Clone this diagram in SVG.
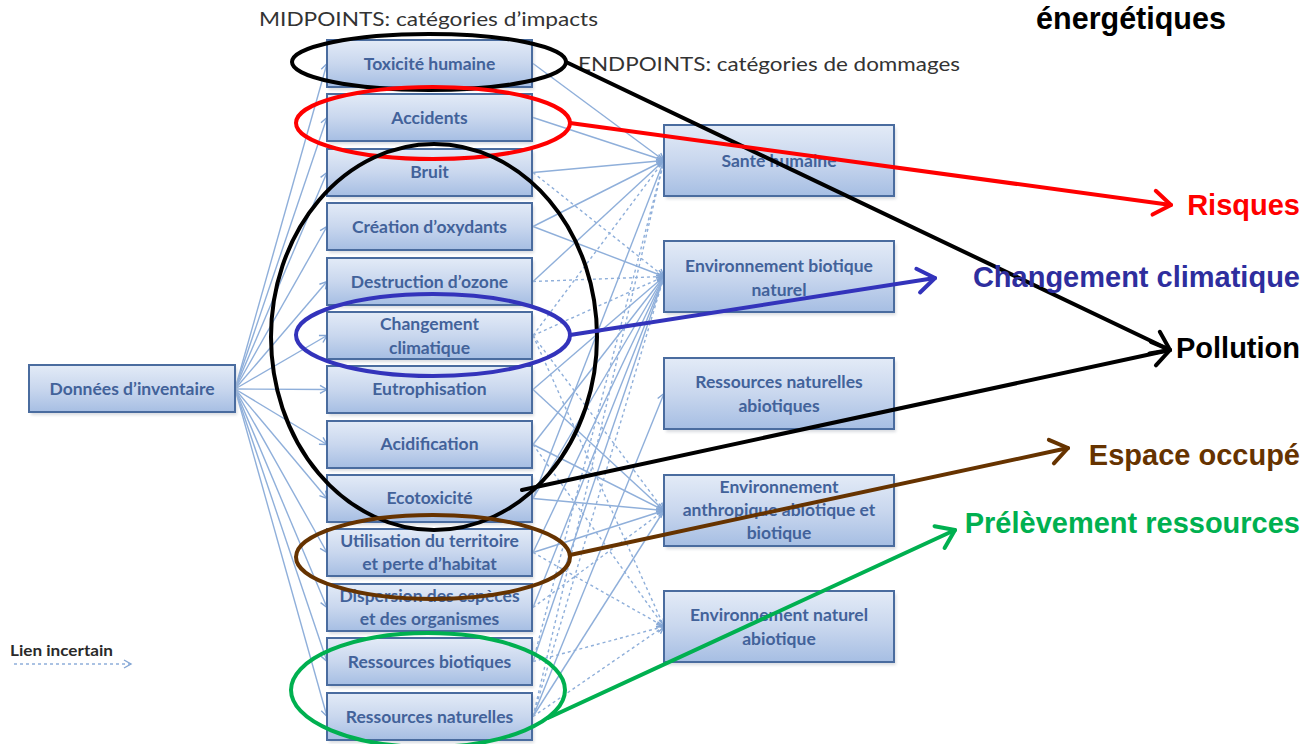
<svg xmlns="http://www.w3.org/2000/svg" width="1316" height="744" viewBox="0 0 1316 744">
<style>
.box{fill:url(#bg);stroke:#4a6c9f;stroke-width:2}
.sh{fill:#b9bec6;opacity:0.55;filter:url(#blur)}
.t{font-family:Lato,"Open Sans",sans-serif;font-size:17.5px;font-weight:700;fill:#42629a;text-anchor:middle}
.hd{font-family:Lato,"Open Sans",sans-serif;font-size:20px;fill:#333333}
.s{stroke:#8fafda;stroke-width:1.4;fill:none;marker-end:url(#ta)}
.d{stroke:#8fafda;stroke-width:1.4;fill:none;stroke-dasharray:3 3;marker-end:url(#ta)}
.el{fill:none;stroke-width:4}
.big{fill:none;stroke-width:4;stroke-linecap:round}
.lab{font-family:"Liberation Sans",Arial,sans-serif;font-size:29px;font-weight:700;text-anchor:end}
</style>
<defs>
<linearGradient id="bg" x1="0" y1="0" x2="0" y2="1">
<stop offset="0" stop-color="#e3ebf7"/>
<stop offset="0.5" stop-color="#c9d7ee"/>
<stop offset="1" stop-color="#a6bee3"/>
</linearGradient>
<filter id="blur" x="-10%" y="-20%" width="120%" height="140%"><feGaussianBlur stdDeviation="1.5"/></filter>
<marker id="ta" markerUnits="userSpaceOnUse" viewBox="-9 -6 10 12" markerWidth="10" markerHeight="12" refX="0" refY="0" orient="auto" overflow="visible">
<path d="M-7,-4 L0,0 L-7,4" fill="none" stroke="#84a6d4" stroke-width="1.4"/>
</marker>
<marker id="aR" markerUnits="userSpaceOnUse" viewBox="-24 -14 26 28" markerWidth="26" markerHeight="28" refX="0" refY="0" orient="auto" overflow="visible"><path d="M-17,-12 L0,0 L-17,12" fill="none" stroke="#ff0000" stroke-width="4" stroke-linecap="round" stroke-linejoin="round"/></marker>
<marker id="aK" markerUnits="userSpaceOnUse" viewBox="-24 -14 26 28" markerWidth="26" markerHeight="28" refX="0" refY="0" orient="auto" overflow="visible"><path d="M-17,-12 L0,0 L-17,12" fill="none" stroke="#000000" stroke-width="4" stroke-linecap="round" stroke-linejoin="round"/></marker>
<marker id="aB" markerUnits="userSpaceOnUse" viewBox="-24 -14 26 28" markerWidth="26" markerHeight="28" refX="0" refY="0" orient="auto" overflow="visible"><path d="M-17,-12 L0,0 L-17,12" fill="none" stroke="#3333bb" stroke-width="4" stroke-linecap="round" stroke-linejoin="round"/></marker>
<marker id="aN" markerUnits="userSpaceOnUse" viewBox="-24 -14 26 28" markerWidth="26" markerHeight="28" refX="0" refY="0" orient="auto" overflow="visible"><path d="M-17,-12 L0,0 L-17,12" fill="none" stroke="#663300" stroke-width="4" stroke-linecap="round" stroke-linejoin="round"/></marker>
<marker id="aG" markerUnits="userSpaceOnUse" viewBox="-24 -14 26 28" markerWidth="26" markerHeight="28" refX="0" refY="0" orient="auto" overflow="visible"><path d="M-17,-12 L0,0 L-17,12" fill="none" stroke="#00b050" stroke-width="4" stroke-linecap="round" stroke-linejoin="round"/></marker>
</defs>
<rect width="1316" height="744" fill="#ffffff"/>

<text class="hd" x="259" y="26" textLength="339" lengthAdjust="spacingAndGlyphs">MIDPOINTS: catégories d’impacts</text>
<text class="hd" x="578" y="71" textLength="382" lengthAdjust="spacingAndGlyphs">ENDPOINTS: catégories de dommages</text>

<g id="connectors">
<line class="s" x1="235" y1="389" x2="327" y2="63.5"/>
<line class="s" x1="235" y1="389" x2="327" y2="117.5"/>
<line class="s" x1="235" y1="389" x2="327" y2="172.5"/>
<line class="s" x1="235" y1="389" x2="327" y2="226.5"/>
<line class="s" x1="235" y1="389" x2="327" y2="281.5"/>
<line class="s" x1="235" y1="389" x2="327" y2="335.5"/>
<line class="s" x1="235" y1="389" x2="327" y2="389.5"/>
<line class="s" x1="235" y1="389" x2="327" y2="444.5"/>
<line class="s" x1="235" y1="389" x2="327" y2="498.5"/>
<line class="s" x1="235" y1="389" x2="327" y2="552.5"/>
<line class="s" x1="235" y1="389" x2="327" y2="607.5"/>
<line class="s" x1="235" y1="389" x2="327" y2="661.5"/>
<line class="s" x1="235" y1="389" x2="327" y2="716.5"/>

<line class="s" x1="533" y1="63.5" x2="664" y2="160.5"/>
<line class="s" x1="533" y1="117.5" x2="664" y2="160.5"/>
<line class="s" x1="533" y1="172.5" x2="664" y2="160.5"/>
<line class="d" x1="533" y1="172.5" x2="664" y2="276.5"/>
<line class="s" x1="533" y1="226.5" x2="664" y2="160.5"/>
<line class="s" x1="533" y1="226.5" x2="664" y2="276.5"/>
<line class="s" x1="533" y1="281.5" x2="664" y2="160.5"/>
<line class="d" x1="533" y1="281.5" x2="664" y2="276.5"/>
<line class="d" x1="533" y1="335.5" x2="664" y2="160.5"/>
<line class="d" x1="533" y1="335.5" x2="664" y2="276.5"/>
<line class="d" x1="533" y1="335.5" x2="664" y2="510.5"/>
<line class="d" x1="533" y1="335.5" x2="664" y2="626.5"/>
<line class="s" x1="533" y1="389.5" x2="664" y2="276.5"/>
<line class="s" x1="533" y1="389.5" x2="664" y2="510.5"/>
<line class="s" x1="533" y1="444.5" x2="664" y2="276.5"/>
<line class="s" x1="533" y1="444.5" x2="664" y2="510.5"/>
<line class="d" x1="533" y1="444.5" x2="664" y2="626.5"/>
<line class="s" x1="533" y1="498.5" x2="664" y2="160.5"/>
<line class="s" x1="533" y1="498.5" x2="664" y2="276.5"/>
<line class="s" x1="533" y1="498.5" x2="664" y2="510.5"/>
<line class="s" x1="533" y1="552.5" x2="664" y2="276.5"/>
<line class="s" x1="533" y1="552.5" x2="664" y2="510.5"/>
<line class="d" x1="533" y1="552.5" x2="664" y2="626.5"/>
<line class="s" x1="533" y1="607.5" x2="664" y2="276.5"/>
<line class="d" x1="533" y1="607.5" x2="664" y2="510.5"/>
<line class="s" x1="533" y1="661.5" x2="664" y2="276.5"/>
<line class="d" x1="533" y1="661.5" x2="664" y2="160.5"/>
<line class="d" x1="533" y1="661.5" x2="664" y2="626.5"/>
<line class="s" x1="533" y1="716.5" x2="664" y2="393.5"/>
<line class="s" x1="533" y1="716.5" x2="664" y2="510.5"/>
<line class="d" x1="533" y1="716.5" x2="664" y2="160.5"/>
<line class="d" x1="533" y1="716.5" x2="664" y2="276.5"/>
<line class="d" x1="533" y1="716.5" x2="664" y2="626.5"/>
</g>

<g id="n-donnees"><rect class="sh" x="31" y="368" width="206" height="47"/><rect class="box" x="29" y="365" width="206" height="47"/><text class="t" x="132" y="395">Données d’inventaire</text></g>

<g id="n-toxicite"><rect class="sh" x="329" y="43" width="205" height="47"/><rect class="box" x="327" y="40" width="205" height="47"/><text class="t" x="429.5" y="69.5">Toxicité humaine</text></g>
<g id="n-accidents"><rect class="sh" x="329" y="97" width="205" height="47"/><rect class="box" x="327" y="94" width="205" height="47"/><text class="t" x="429.5" y="123.5">Accidents</text></g>
<g id="n-bruit"><rect class="sh" x="329" y="152" width="205" height="47"/><rect class="box" x="327" y="149" width="205" height="47"/><text class="t" x="429.5" y="178">Bruit</text></g>
<g id="n-oxydants"><rect class="sh" x="329" y="206" width="205" height="47"/><rect class="box" x="327" y="203" width="205" height="47"/><text class="t" x="429.5" y="232.5">Création d’oxydants</text></g>
<g id="n-ozone"><rect class="sh" x="329" y="261" width="205" height="47"/><rect class="box" x="327" y="258" width="205" height="47"/><text class="t" x="429.5" y="287.5">Destruction d’ozone</text></g>
<g id="n-climat"><rect class="sh" x="329" y="315" width="205" height="47"/><rect class="box" x="327" y="312" width="205" height="47"/><text class="t" x="429.5" y="330">Changement</text><text class="t" x="429.5" y="354">climatique</text></g>
<g id="n-eutro"><rect class="sh" x="329" y="369" width="205" height="47"/><rect class="box" x="327" y="366" width="205" height="47"/><text class="t" x="429.5" y="395">Eutrophisation</text></g>
<g id="n-acid"><rect class="sh" x="329" y="424" width="205" height="47"/><rect class="box" x="327" y="421" width="205" height="47"/><text class="t" x="429.5" y="450">Acidification</text></g>
<g id="n-ecotox"><rect class="sh" x="329" y="478" width="205" height="47"/><rect class="box" x="327" y="475" width="205" height="47"/><text class="t" x="429.5" y="504">Ecotoxicité</text></g>
<g id="n-territoire"><rect class="sh" x="329" y="532" width="205" height="47"/><rect class="box" x="327" y="529" width="205" height="47"/><text class="t" x="429.5" y="547">Utilisation du territoire</text><text class="t" x="429.5" y="570">et perte d’habitat</text></g>
<g id="n-dispersion"><rect class="sh" x="329" y="587" width="205" height="47"/><rect class="box" x="327" y="584" width="205" height="47"/><text class="t" x="429.5" y="602">Dispersion des espèces</text><text class="t" x="429.5" y="625">et des organismes</text></g>
<g id="n-biotiques"><rect class="sh" x="329" y="641" width="205" height="47"/><rect class="box" x="327" y="638" width="205" height="47"/><text class="t" x="429.5" y="667.5">Ressources biotiques</text></g>
<g id="n-naturelles"><rect class="sh" x="329" y="696" width="205" height="47"/><rect class="box" x="327" y="693" width="205" height="47"/><text class="t" x="429.5" y="722.5">Ressources naturelles</text></g>

<g id="e-sante"><rect class="sh" x="666" y="128" width="230" height="71"/><rect class="box" x="664" y="125" width="230" height="71"/><text class="t" x="779" y="166.5">Santé humaine</text></g>
<g id="e-biotique"><rect class="sh" x="666" y="244" width="230" height="71"/><rect class="box" x="664" y="241" width="230" height="71"/><text class="t" x="779" y="272">Environnement biotique</text><text class="t" x="779" y="296">naturel</text></g>
<g id="e-ressources"><rect class="sh" x="666" y="361" width="230" height="71"/><rect class="box" x="664" y="358" width="230" height="71"/><text class="t" x="779" y="388">Ressources naturelles</text><text class="t" x="779" y="412">abiotiques</text></g>
<g id="e-anthropique"><rect class="sh" x="666" y="478" width="230" height="71"/><rect class="box" x="664" y="475" width="230" height="71"/><text class="t" x="779" y="493">Environnement</text><text class="t" x="779" y="516">anthropique abiotique et</text><text class="t" x="779" y="539">biotique</text></g>
<g id="e-abiotique"><rect class="sh" x="666" y="594" width="230" height="71"/><rect class="box" x="664" y="591" width="230" height="71"/><text class="t" x="779" y="621">Environnement naturel</text><text class="t" x="779" y="645">abiotique</text></g>

<g id="legend">
<text x="10" y="656" font-family="Lato,'Open Sans',sans-serif" font-size="16" font-weight="700" fill="#2a2a2a" textLength="103" lengthAdjust="spacingAndGlyphs">Lien incertain</text>
<line class="d" x1="14" y1="664" x2="131" y2="664" stroke-dasharray="2 3"/>
</g>

<g id="highlights">
<ellipse class="el" stroke="#000000" cx="429" cy="62" rx="137" ry="28"/>
<ellipse class="el" stroke="#ff0000" cx="433" cy="123" rx="137" ry="36"/>
<ellipse class="el" stroke="#000000" cx="434" cy="337" rx="163" ry="193"/>
<ellipse class="el" stroke="#3333bb" cx="433" cy="335" rx="137" ry="41"/>
<ellipse class="el" stroke="#663300" cx="433" cy="557" rx="137" ry="42"/>
<ellipse class="el" stroke="#00b050" cx="428" cy="690" rx="137" ry="57"/>
</g>

<g id="groupings">
<line class="big" stroke="#000000" x1="566" y1="62" x2="1170" y2="350" marker-end="url(#aK)"/>
<line class="big" stroke="#ff0000" x1="570" y1="123" x2="1171" y2="205" marker-end="url(#aR)"/>
<line class="big" stroke="#3333bb" x1="570" y1="335" x2="935" y2="278" marker-end="url(#aB)"/>
<line class="big" stroke="#000000" x1="522" y1="490" x2="1170" y2="350" marker-end="url(#aK)"/>
<line class="big" stroke="#663300" x1="570" y1="555" x2="1068" y2="448" marker-end="url(#aN)"/>
<line class="big" stroke="#00b050" x1="548" y1="718" x2="955" y2="530" marker-end="url(#aG)"/>
</g>

<g id="labels">
<text class="lab" x="1131" y="29" style="text-anchor:middle;font-size:30.5px" fill="#000000">énergétiques</text>
<text class="lab" x="1300" y="215" fill="#ff0000">Risques</text>
<text class="lab" x="1300" y="287" fill="#2e2e9e">Changement climatique</text>
<text class="lab" x="1300" y="358" fill="#000000">Pollution</text>
<text class="lab" x="1300" y="465" fill="#663300">Espace occupé</text>
<text class="lab" x="1300" y="533" fill="#00b050">Prélèvement ressources</text>
</g>
</svg>
